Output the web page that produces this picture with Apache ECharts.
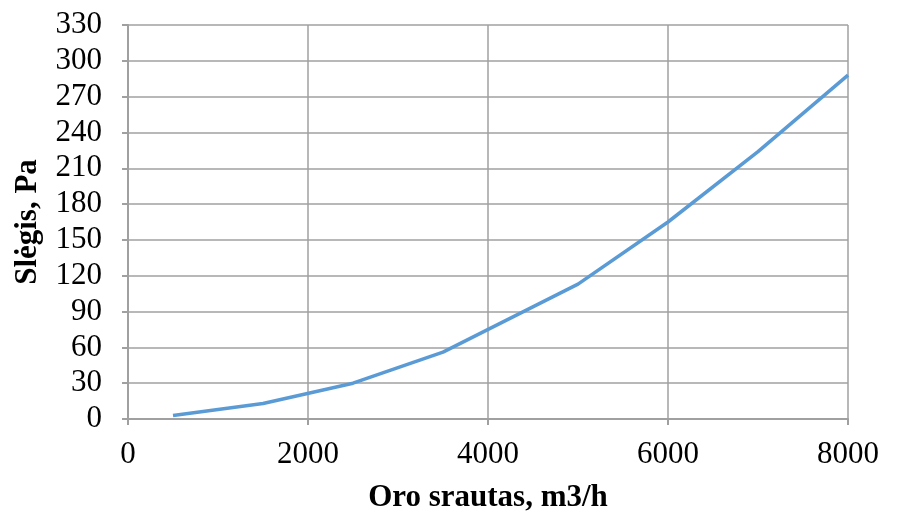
<!DOCTYPE html>
<html>
<head>
<meta charset="utf-8">
<script src="https://cdn.jsdelivr.net/npm/echarts@6/dist/echarts.min.js"></script>
<style>html,body{margin:0;padding:0;background:#fff;}#c{width:897px;height:514px;}</style>
</head>
<body>
<div id="c"></div>
<script>
var flow = [500, 1500, 2500, 3500, 5000, 6000, 7000, 8000];
var pressure = [3, 13, 30, 56, 113, 165, 224, 288];
var xTitle = 'Oro srautas, m3/h';
var yTitle = 'Slėgis, Pa';

var chart = echarts.init(document.getElementById('c'));
var gridColor = '#a0a0a0';
var font = '"Liberation Serif", "Times New Roman", serif';
chart.setOption({
  animation: false,
  grid: {left: 128, right: 49, top: 25, bottom: 95, containLabel: false, outerBoundsMode: 'none'},
  xAxis: {
    type: 'value', min: 0, max: 8000, interval: 2000,
    name: xTitle, nameLocation: 'middle', nameGap: 63,
    nameTextStyle: {fontFamily: font, fontWeight: 'bold', fontSize: 31, color: '#000'},
    axisLine: {show: true, lineStyle: {color: gridColor, width: 2}},
    axisTick: {show: true, length: 6, lineStyle: {color: gridColor, width: 2}},
    axisLabel: {fontFamily: font, fontSize: 31, color: '#000', margin: 20,
      formatter: function(v){ return String(v); }},
    splitLine: {show: true, lineStyle: {color: gridColor, width: 1.5}}
  },
  yAxis: {
    type: 'value', min: 0, max: 330, interval: 30,
    name: yTitle, nameLocation: 'middle', nameGap: 85,
    nameTextStyle: {fontFamily: font, fontWeight: 'bold', fontSize: 31, color: '#000'},
    axisLine: {show: true, lineStyle: {color: gridColor, width: 2}},
    axisTick: {show: true, length: 6, lineStyle: {color: gridColor, width: 2}},
    axisLabel: {fontFamily: font, fontSize: 31, color: '#000', margin: 26,
      formatter: function(v){ return String(v); }},
    splitLine: {show: true, lineStyle: {color: gridColor, width: 1.5}}
  },
  series: [{
    type: 'line',
    data: flow.map(function(x, i){ return [x, pressure[i]]; }),
    showSymbol: false,
    lineStyle: {color: '#5b9bd5', width: 3.5},
    smooth: false
  }]
});
</script>
</body>
</html>
